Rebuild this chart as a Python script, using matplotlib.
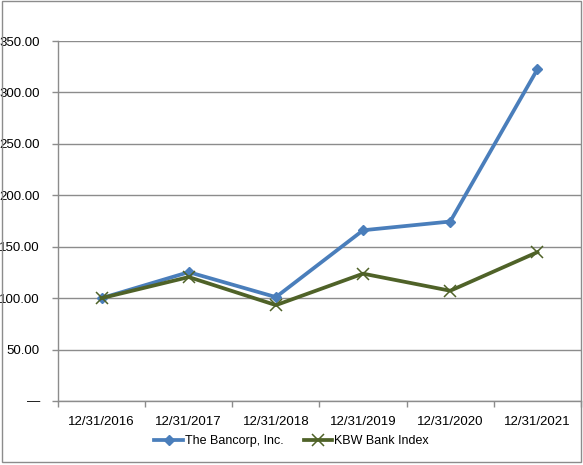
import matplotlib.pyplot as plt
from matplotlib.patches import Rectangle
import numpy as np

# ---------------------------------------
# Data
# ---------------------------------------
dates = ["12/31/2016", "12/31/2017", "12/31/2018", "12/31/2019", "12/31/2020", "12/31/2021"]
bancorp = [100.0, 125.3, 101.0, 166.0, 174.5, 322.5]
kbw_bank = [100.0, 120.5, 93.2, 123.8, 107.2, 144.7]
y_ticks = [0, 50, 100, 150, 200, 250, 300, 350]

BLUE = "#4a7ebb"
GREEN = "#4f6228"
GRID = "#8c8c8c"

plt.rcParams["font.family"] = ["Liberation Sans", "DejaVu Sans"]
plt.rcParams["font.size"] = 9.5

fig = plt.figure(figsize=(5.83, 4.65), dpi=100)
ax = fig.add_axes([58 / 583, 1 - 401 / 465, (581 - 58) / 583, (401 - 41) / 465])

x = np.arange(len(dates))
ax.plot(x, bancorp, color=BLUE, lw=2.7, marker="D", ms=5.5, label="The Bancorp, Inc.", zorder=3)
ax.plot(x, kbw_bank, color=GREEN, lw=2.7, marker="x", ms=8, mew=1.1, label="KBW Bank Index", zorder=4)

ax.set_xlim(-0.5, len(dates) - 0.5)
ax.set_ylim(0, 350)

# y axis: accounting style labels, dash for zero
ax.set_yticks(y_ticks)
ax.set_yticklabels(["\u2014" if v == 0 else f"{v:.2f}" for v in y_ticks])
ax.tick_params(axis="y", length=4, width=1, color=GRID, pad=9)
ax.yaxis.grid(True, color=GRID, lw=1)
ax.set_axisbelow(True)

# x axis: labels at centers, tick marks between categories
ax.set_xticks(x)
ax.set_xticklabels(dates)
ax.set_xticks(np.arange(-0.5, len(dates)), minor=True)
ax.tick_params(axis="x", which="major", length=0, pad=11)
ax.tick_params(axis="x", which="minor", length=4, width=1, color=GRID)

for side in ["top", "right"]:
    ax.spines[side].set_visible(False)
for side in ["left", "bottom"]:
    ax.spines[side].set_color(GRID)
    ax.spines[side].set_linewidth(1)

fig.legend(loc="center", bbox_to_anchor=(0.5, 1 - 441 / 465), ncol=2, frameon=False,
           fontsize=9, handlelength=2.3, handletextpad=0.15, columnspacing=1.6)

# outer chart border
fig.patches.append(Rectangle((1.5 / 583, 1 - 461.5 / 465), 579.5 / 583, 460 / 465,
                             transform=fig.transFigure, fill=False, ec=GRID, lw=1))

fig.savefig("out.png", dpi=100)
